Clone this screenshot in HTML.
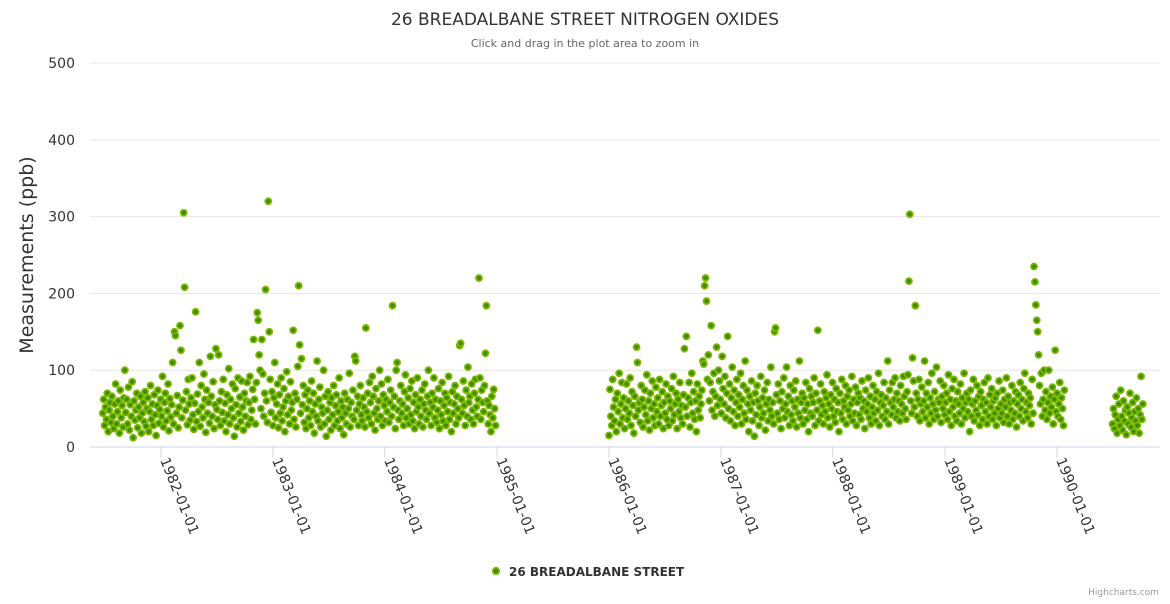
<!DOCTYPE html>
<html><head><meta charset="utf-8">
<style>
html,body{margin:0;padding:0;background:#fff;}
body{width:1170px;height:600px;overflow:hidden;font-family:"DejaVu Sans","Liberation Sans",sans-serif;}
</style></head>
<body>
<svg id="chart" width="1170" height="600" xmlns="http://www.w3.org/2000/svg" font-family="DejaVu Sans, Liberation Sans, sans-serif">
  <text x="585" y="25" text-anchor="middle" font-size="17" fill="#333">26 BREADALBANE STREET NITROGEN OXIDES</text>
  <text x="585" y="47" text-anchor="middle" font-size="11" fill="#666">Click and drag in the plot area to zoom in</text>
  <g id="grid"></g>
  <g id="yticks"></g>
  <g id="xticks"></g>
  <text transform="translate(33,255) rotate(-90)" text-anchor="middle" font-size="19" fill="#333">Measurements (ppb)</text>
  <g id="points"></g>
  <g>
    <circle cx="496" cy="571" r="3.2" fill="#3e8a00" stroke="#7cb800" stroke-width="1.8"/>
    <text x="509" y="576" font-size="12" font-weight="bold" fill="#333">26 BREADALBANE STREET</text>
  </g>
  <text x="1159" y="595" text-anchor="end" font-size="9" fill="#999">Highcharts.com</text>
</svg>
<script>
const yTicks=[0,100,200,300,400,500];
const xTickLabels=["1982-01-01","1983-01-01","1984-01-01","1985-01-01","1986-01-01","1987-01-01","1988-01-01","1989-01-01","1990-01-01"];
const seg1Start="1981-06-25";
const seg1Values=[
44,62,28,52,36,70,20,48,58,32,66,40,24,56,82,30,46,60,18,74,38,54,26,64,
100,45,62,30,78,22,55,40,85,12,60,35,48,70,25,52,38,66,18,44,
58,33,72,27,50,64,20,46,80,36,56,28,68,42,15,54,74,31,49,62,
40,92,26,58,70,34,47,82,21,63,39,55,110,30,150,145,44,67,25,52,
158,126,38,61,305,208,48,72,29,88,56,35,64,90,42,23,57,176,33,69,
46,110,27,80,52,38,95,62,19,74,44,58,31,118,66,40,85,24,55,128,
49,36,120,60,28,72,45,88,34,57,20,68,42,102,30,62,50,82,38,14,
76,55,26,90,44,65,33,86,52,22,70,40,60,84,29,58,92,36,48,75,
140,62,30,84,175,165,120,100,50,140,95,40,70,205,60,32,320,150,88,45,
72,28,64,110,38,56,82,25,68,44,90,34,52,76,20,60,98,42,66,30,
85,48,58,152,36,70,26,62,105,210,133,44,115,55,80,32,68,24,50,74,
38,60,28,86,46,70,18,56,40,112,34,62,78,26,52,44,100,30,66,14,
48,72,36,58,22,64,42,80,28,54,68,34,46,90,24,60,38,52,16,70,
44,30,62,50,96,26,58,40,74,36,118,112,48,66,28,56,80,42,34,64,
52,26,155,46,70,38,84,58,30,92,66,44,22,76,50,36,60,100,40,82,
28,68,54,34,62,46,88,32,58,74,40,184,52,66,24,100,110,48,36,60,
80,44,56,28,72,94,38,50,64,30,76,42,86,34,58,24,68,46,90,52,
30,62,40,74,26,56,82,48,36,66,100,44,58,28,70,52,90,38,62,32,
48,76,24,60,42,84,34,54,70,28,64,46,92,36,58,20,72,44,56,80,
30,66,50,38,132,135,62,44,86,54,28,74,40,104,58,66,36,82,48,30,
70,88,52,40,62,220,90,36,74,58,46,80,122,184,60,30,54,42,20,66,
38,75,50,28];
const seg2Start="1986-01-01";
const seg2Values=[
15,75,40,28,88,52,34,62,20,70,46,96,30,56,84,38,64,24,50,82,
36,60,44,90,28,72,54,18,66,40,130,110,48,58,32,80,62,26,52,74,
42,94,34,60,22,70,50,86,38,56,28,78,46,64,30,88,40,54,72,24,
58,44,82,36,66,28,60,50,76,34,92,42,56,70,24,62,46,84,38,54,
30,68,128,52,144,40,64,84,26,58,96,44,72,36,60,20,82,48,66,38,
56,74,112,108,210,220,190,88,120,60,84,158,48,72,96,40,66,130,54,100,
86,62,44,118,76,56,92,38,70,144,50,82,34,64,104,46,74,28,58,88,
40,68,52,96,30,62,80,44,112,36,74,56,20,66,48,86,34,58,14,70,
42,80,60,28,52,92,38,64,44,74,22,56,84,34,62,48,104,40,58,30,
150,155,68,44,82,36,60,24,72,50,90,38,56,104,46,66,28,80,42,60,
34,74,52,86,26,62,44,112,38,58,70,30,64,48,84,36,56,20,76,44,
66,40,58,90,28,70,48,152,34,60,82,42,54,30,72,46,64,94,38,56,
26,68,50,84,40,62,32,76,46,58,20,70,44,88,36,60,52,80,30,66,
48,74,40,56,92,34,62,44,78,28,58,70,42,64,36,86,50,60,24,74,
46,56,90,38,66,30,52,80,44,62,34,72,48,96,28,58,68,40,54,84,
36,64,46,112,30,74,58,42,84,52,62,90,38,70,46,60,34,80,56,44,
92,66,50,36,72,94,216,303,60,44,116,86,52,184,70,40,62,88,34,56,
78,46,60,112,38,70,52,84,30,64,44,96,56,36,72,48,104,40,62,58,
86,32,66,50,80,42,58,70,36,94,46,62,28,76,52,88,40,60,34,72,
56,44,82,30,64,50,96,38,58,70,46,62,20,74,40,56,88,34,60,48,
80,42,66,28,72,54,36,62,84,46,58,30,90,40,68,52,76,36,60,44,
64,28,70,50,86,38,56,44,74,32,62,52,90,40,66,30,58,48,80,36,
60,44,72,26,56,68,40,84,50,62,34,76,96,46,58,38,70,54,64,30,
88,44,235,215,185,165,150,120,80,56,96,40,62,100,48,72,36,58,100,44,
66,52,78,30,62,126,46,70,40,56,84,36,64,50,28,74];
const seg3Start="1990-07-01";
const seg3Values=[
30,50,24,42,66,18,36,56,28,74,40,22,60,34,48,16,52,30,44,70,
26,38,58,20,46,34,64,28,50,18,42,92,36,56];

const X0=161, PXYEAR=112.0, D0=Date.UTC(1982,0,1);
function xs(t){return X0+(t-D0)/(365.25*86400000)*PXYEAR;}
function ys(v){return 447-v*(384/500);}
const NS="http://www.w3.org/2000/svg";
function mk(tag,attrs,parent){const e=document.createElementNS(NS,tag);for(const k in attrs)e.setAttribute(k,attrs[k]);parent.appendChild(e);return e;}

const grid=document.getElementById('grid'), yt=document.getElementById('yticks');
yTicks.forEach(v=>{
  const l=mk('line',{x1:90,x2:1160,y1:ys(v),y2:ys(v),stroke:v===0?'#ccd6eb':'#e6e6e6','stroke-width':1},grid);
  
  
  const t=mk('text',{x:75,y:ys(v)+5,'text-anchor':'end','font-size':14,fill:'#333'},yt);
  t.textContent=v;
  
  
});
const xt=document.getElementById('xticks');
xTickLabels.forEach(s=>{
  const p=s.split('-');const x=xs(Date.UTC(+p[0],+p[1]-1,+p[2]));
  const l=mk('line',{x1:x,x2:x,y1:447,y2:457,stroke:'#ccd6eb'},xt);
  
  
  const t=mk('text',{x:0,y:0,'font-size':14,fill:'#333',transform:`translate(${x-1},460) rotate(68)`},xt);
  t.textContent=s;
  
  
});
const pts=document.getElementById('points');
function drawSeg(start,vals){
  const p=start.split('-');const t0=Date.UTC(+p[0],+p[1]-1,+p[2]);
  vals.forEach((v,i)=>{
    const c=mk('circle',{cx:xs(t0+i*3*86400000),cy:ys(v),r:3,fill:'#3e8a00',stroke:'#7cb800','stroke-width':1.8},pts);
    
    
  });
}
drawSeg(seg1Start,seg1Values);
drawSeg(seg2Start,seg2Values);
drawSeg(seg3Start,seg3Values);
</script>
</body></html>
